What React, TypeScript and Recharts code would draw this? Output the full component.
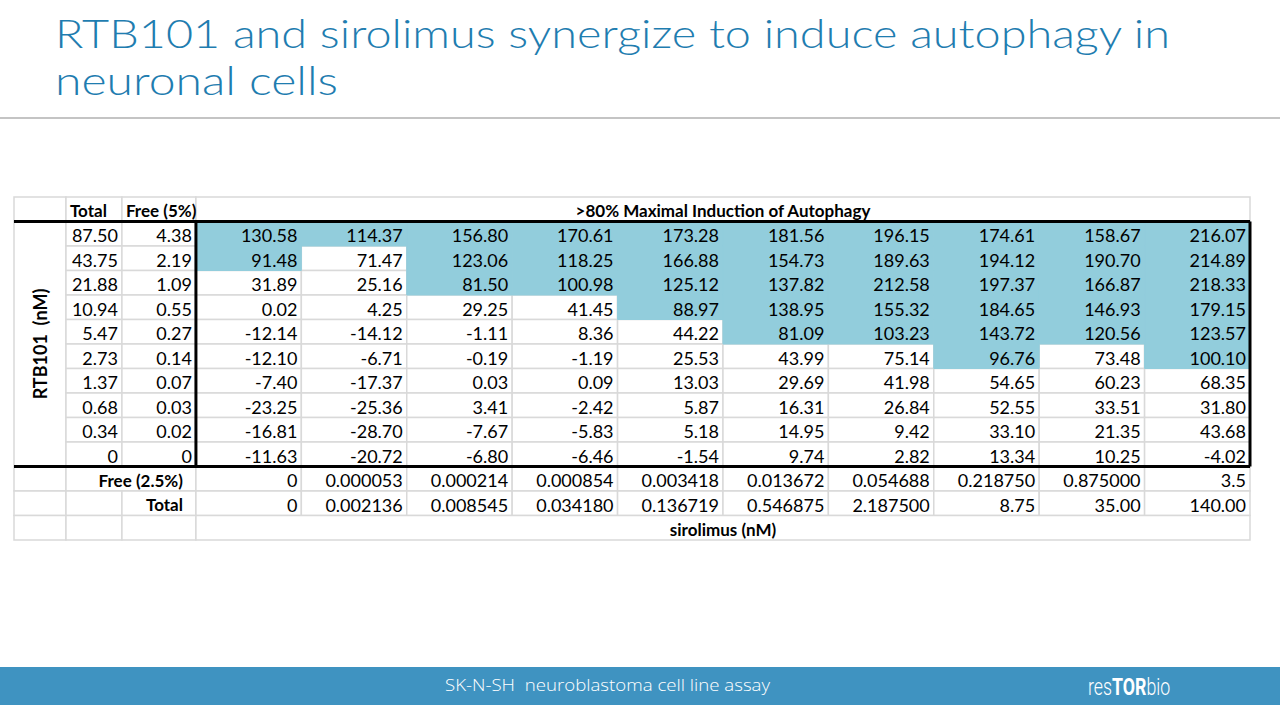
import { ScatterChart, Scatter, XAxis, YAxis, ReferenceArea, ReferenceLine } from "recharts";

// RTB101 concentrations (nM), one per table row, top to bottom
const rtbTotal = [87.5, 43.75, 21.88, 10.94, 5.47, 2.73, 1.37, 0.68, 0.34, 0];
const rtbFree = [4.38, 2.19, 1.09, 0.55, 0.27, 0.14, 0.07, 0.03, 0.02, 0];

// sirolimus concentrations (nM), one per column, as printed
const siroFree = ["0", "0.000053", "0.000214", "0.000854", "0.003418", "0.013672", "0.054688", "0.218750", "0.875000", "3.5"];
const siroTotal = ["0", "0.002136", "0.008545", "0.034180", "0.136719", "0.546875", "2.187500", "8.75", "35.00", "140.00"];

// % autophagy induction, rows follow rtbTotal
const induction = [
  [130.58, 114.37, 156.8, 170.61, 173.28, 181.56, 196.15, 174.61, 158.67, 216.07],
  [91.48, 71.47, 123.06, 118.25, 166.88, 154.73, 189.63, 194.12, 190.7, 214.89],
  [31.89, 25.16, 81.5, 100.98, 125.12, 137.82, 212.58, 197.37, 166.87, 218.33],
  [0.02, 4.25, 29.25, 41.45, 88.97, 138.95, 155.32, 184.65, 146.93, 179.15],
  [-12.14, -14.12, -1.11, 8.36, 44.22, 81.09, 103.23, 143.72, 120.56, 123.57],
  [-12.1, -6.71, -0.19, -1.19, 25.53, 43.99, 75.14, 96.76, 73.48, 100.1],
  [-7.4, -17.37, 0.03, 0.09, 13.03, 29.69, 41.98, 54.65, 60.23, 68.35],
  [-23.25, -25.36, 3.41, -2.42, 5.87, 16.31, 26.84, 52.55, 33.51, 31.8],
  [-16.81, -28.7, -7.67, -5.83, 5.18, 14.95, 9.42, 33.1, 21.35, 43.68],
  [-11.63, -20.72, -6.8, -6.46, -1.54, 9.74, 2.82, 13.34, 10.25, -4.02],
];

const THRESHOLD = 80;
const title1 = "RTB101 and sirolimus synergize to induce autophagy in";
const title2 = "neuronal cells";
const footer = "SK-N-SH  neuroblastoma cell line assay";

// column widths in units of one data column
const colWidths = [0.493, 0.531, 0.702, ...induction[0].map(() => 1)];
const edges = colWidths.reduce<number[]>((acc, w) => [...acc, acc[acc.length - 1] + w], [0]);
const nCols = induction[0].length;
const nRows = induction.length + 4;
const xMax = edges[edges.length - 1];
const dataL = edges[3];

const fmt = (v: number) => (v === 0 ? "0" : v.toFixed(2));

// grid cells (gray borders)
type Box = { x1: number; x2: number; y1: number; y2: number };
const grid: Box[] = [];
const box = (c1: number, c2: number, r1: number, r2: number) =>
  grid.push({ x1: edges[c1], x2: edges[c2], y1: r1, y2: r2 });
box(0, 1, 0, 1);
box(1, 2, 0, 1);
box(2, 3, 0, 1);
box(3, 3 + nCols, 0, 1);
box(0, 1, 1, 1 + induction.length);
induction.forEach((row, r) => {
  box(1, 2, r + 1, r + 2);
  box(2, 3, r + 1, r + 2);
  row.forEach((_, c) => box(3 + c, 4 + c, r + 1, r + 2));
});
const fr = induction.length + 1;
box(0, 1, fr, fr + 1);
box(1, 3, fr, fr + 1);
box(0, 1, fr + 1, fr + 2);
box(1, 2, fr + 1, fr + 2);
box(2, 3, fr + 1, fr + 2);
siroFree.forEach((_, c) => {
  box(3 + c, 4 + c, fr, fr + 1);
  box(3 + c, 4 + c, fr + 1, fr + 2);
});
box(0, 1, fr + 2, fr + 3);
box(1, 2, fr + 2, fr + 3);
box(2, 3, fr + 2, fr + 3);
box(3, 3 + nCols, fr + 2, fr + 3);

const highlighted: Box[] = [];
induction.forEach((row, r) =>
  row.forEach((v, c) => {
    if (v > THRESHOLD) highlighted.push({ x1: edges[3 + c], x2: edges[4 + c], y1: r + 1, y2: r + 2 });
  })
);

// text anchors
const valuePts = induction.flatMap((row, r) => row.map((v, c) => ({ x: edges[4 + c], y: r + 1.5, label: fmt(v) })));
const rtbPts = [
  ...rtbTotal.map((v, r) => ({ x: edges[2], y: r + 1.5, label: fmt(v) })),
  ...rtbFree.map((v, r) => ({ x: edges[3], y: r + 1.5, label: fmt(v) })),
];
const siroPts = [
  ...siroFree.map((s, c) => ({ x: edges[4 + c], y: fr + 0.5, label: s })),
  ...siroTotal.map((s, c) => ({ x: edges[4 + c], y: fr + 1.5, label: s })),
];
const headLeft = [
  { x: edges[1], y: 0.5, label: "Total" },
  { x: edges[2], y: 0.5, label: "Free (5%)" },
];
const headCenter = [
  { x: (dataL + xMax) / 2, y: 0.5, label: ">80% Maximal Induction of Autophagy" },
  { x: (dataL + xMax) / 2, y: fr + 2.5, label: "sirolimus (nM)" },
];
const headRight = [
  { x: dataL, y: fr + 0.5, label: "Free (2.5%)" },
  { x: dataL, y: fr + 1.5, label: "Total" },
];
const sideLabel = [{ x: edges[1] / 2, y: 1 + induction.length / 2, label: "RTB101  (nM)" }];

const FONT = "Lato, 'Open Sans', sans-serif";
const TITLE_FONT = "'Open Sans', 'DejaVu Sans', sans-serif";

const makeText = (anchor: "start" | "middle" | "end", dx: number, bold: boolean) => (p: any) => (
  <text
    x={p.cx + dx}
    y={p.cy + 1.5}
    textAnchor={anchor}
    dominantBaseline="central"
    fontFamily={FONT}
    fontSize={bold ? 17 : 18}
    fontWeight={bold ? 700 : 400}
    fill="#000"
  >
    {p.payload.label}
  </text>
);

const rotatedText = (p: any) => (
  <text
    x={p.cx}
    y={p.cy}
    transform={`rotate(-90 ${p.cx} ${p.cy})`}
    textAnchor="middle"
    dominantBaseline="central"
    fontFamily={FONT}
    fontSize={18}
    fontWeight={700}
    fill="#000"
    style={{ whiteSpace: "pre" }}
  >
    {p.payload.label}
  </text>
);

export default function App() {
  return (
    <div style={{ position: "absolute", left: 0, top: 0, width: 1280, height: 720, background: "#fff", overflow: "hidden" }}>
      <svg width={1280} height={720} style={{ position: "absolute", left: 0, top: 0 }}>
        <text x={55} y={48} fontFamily="Lato, sans-serif" fontWeight={300} fontSize={39} fill="#1f7db0" textLength={1115} lengthAdjust="spacingAndGlyphs">
          {title1}
        </text>
        <text x={55} y={95} fontFamily="Lato, sans-serif" fontWeight={300} fontSize={39} fill="#1f7db0" textLength={283} lengthAdjust="spacingAndGlyphs">
          {title2}
        </text>
        <rect x={0} y={117} width={1280} height={2} fill="#c4c4c4" />
        <rect x={0} y={667} width={1280} height={38} fill="#3f93c1" />
        <text x={445} y={691} fontFamily={TITLE_FONT} fontWeight={300} fontSize={16} fill="#fff" textLength={325} lengthAdjust="spacingAndGlyphs" style={{ whiteSpace: "pre" }}>
          {footer}
        </text>
        <g transform="translate(1088 695) scale(0.74 1)">
          <text x={0} y={0} fontFamily="Roboto, sans-serif" fontSize={24} fill="#fff">
            <tspan fontWeight={300}>res</tspan>
            <tspan fontWeight={700}>TOR</tspan>
            <tspan fontWeight={300}>bio</tspan>
          </text>
        </g>
      </svg>
      <div style={{ position: "absolute", left: 0, top: 0 }}>
        <ScatterChart width={1280} height={720} margin={{ top: 197, right: 30, bottom: 180, left: 14 }}>
          <XAxis type="number" dataKey="x" domain={[0, xMax]} hide allowDataOverflow />
          <YAxis type="number" dataKey="y" domain={[0, nRows]} reversed hide allowDataOverflow />
          {grid.map((b, i) => (
            <ReferenceArea key={`g${i}`} {...b} fill="#fff" fillOpacity={1} stroke="#d9d9d9" strokeWidth={1.5} />
          ))}
          {highlighted.map((b, i) => (
            <ReferenceArea key={`h${i}`} {...b} fill="#92cddc" fillOpacity={1} stroke="#92cddc" strokeWidth={1} />
          ))}
          <ReferenceLine y={1} stroke="#000" strokeWidth={3} />
          <ReferenceLine y={fr} stroke="#000" strokeWidth={3} />
          <ReferenceLine segment={[{ x: dataL, y: 1 }, { x: dataL, y: fr }]} stroke="#000" strokeWidth={3} />
          <ReferenceLine segment={[{ x: xMax, y: 1 }, { x: xMax, y: fr }]} stroke="#000" strokeWidth={3} />
          <Scatter data={valuePts} shape={makeText("end", -4, false)} isAnimationActive={false} />
          <Scatter data={rtbPts} shape={makeText("end", -4, false)} isAnimationActive={false} />
          <Scatter data={siroPts} shape={makeText("end", -4, false)} isAnimationActive={false} />
          <Scatter data={headLeft} shape={makeText("start", 4, true)} isAnimationActive={false} />
          <Scatter data={headCenter} shape={makeText("middle", 0, true)} isAnimationActive={false} />
          <Scatter data={headRight} shape={makeText("end", -13, true)} isAnimationActive={false} />
          <Scatter data={sideLabel} shape={rotatedText} isAnimationActive={false} />
        </ScatterChart>
      </div>
    </div>
  );
}
